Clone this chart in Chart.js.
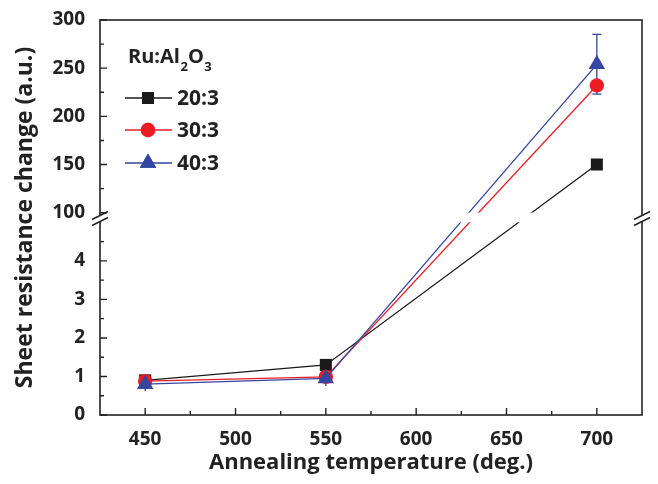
<!DOCTYPE html>
<html>
<head>
<meta charset="utf-8">
<script src="https://cdn.jsdelivr.net/npm/chart.js@4.4.1/dist/chart.umd.min.js"></script>
<style>
  html, body { margin: 0; padding: 0; background: #fff; }
  #wrap { width: 658px; height: 484px; }
</style>
</head>
<body>
<div id="wrap"><canvas id="chart" width="658" height="484"></canvas></div>
<script>
// data
var temps = [450, 550, 700];
var r20 = [0.9, 1.3, 150];
var r30 = [0.88, 0.99, 232];
var r40 = [0.8, 0.95, 254];
var err40 = [0.18, 0.2, 31];

var seriesNames = ["20:3", "30:3", "40:3"];
var seriesColors = ["#1a1a1a", "#ed1c24", "#3346a0"];
var seriesShapes = ["rect", "circle", "triangle"];

var xTicks = [450, 500, 550, 600, 650, 700];
var xMinor = [475, 525, 575, 625, 675];
var lowTicks = [0, 1, 2, 3, 4];
var lowMinor = [0.5, 1.5, 2.5, 3.5, 4.5];
var highTicks = [100, 150, 200, 250, 300];
var highMinor = [125, 175, 225, 275];

// broken axis: 0..5 kept as is, 100..300 squeezed on top of it
var LOW_END = 5, HIGH_START = 5.25;
function toDisp(v) {
	if (v <= LOW_END) return v;
	return HIGH_START + (v - 100) / 40;
}
function fromDisp(d) {
	if (d <= LOW_END) return d;
	return Math.round(100 + (d - HIGH_START) * 40);
}

function pts(vals) {
	return temps.map(function(t, i) { return {x: t, y: toDisp(vals[i])}; });
}

var FONT = "'Open Sans', sans-serif";
var INK = "#222";

var brokenAxis = {
	id: 'brokenAxis',
	beforeDatasetsDraw: function(chart) {
		// error bars for 40:3
		var ctx = chart.ctx, xs = chart.scales.x, ys = chart.scales.y;
		ctx.save();
		ctx.strokeStyle = seriesColors[2];
		ctx.lineWidth = 1.3;
		for (var i = 0; i < temps.length; i++) {
			var x = xs.getPixelForValue(temps[i]);
			var yt = ys.getPixelForValue(toDisp(r40[i] + err40[i]));
			var yb = ys.getPixelForValue(toDisp(r40[i] - err40[i]));
			ctx.beginPath();
			ctx.moveTo(x, yt); ctx.lineTo(x, yb);
			if (i == 2) {
				ctx.moveTo(x - 4.5, yt); ctx.lineTo(x + 4.5, yt);
				ctx.moveTo(x - 4.5, yb); ctx.lineTo(x + 4.5, yb);
			}
			ctx.stroke();
		}
		ctx.restore();
	},
	afterDatasetsDraw: function(chart) {
		var ctx = chart.ctx, a = chart.chartArea, xs = chart.scales.x, ys = chart.scales.y;
		var yLo = ys.getPixelForValue(LOW_END), yHi = ys.getPixelForValue(HIGH_START);
		ctx.save();
		// white band through the plot where the axis is broken
		ctx.fillStyle = "#fff";
		ctx.fillRect(a.left + 1, yHi, a.right - a.left - 2, yLo - yHi);

		// frame
		ctx.strokeStyle = INK;
		ctx.lineWidth = 1.6;
		ctx.strokeRect(a.left, a.top, a.right - a.left, a.bottom - a.top);

		// inward ticks
		ctx.lineWidth = 1.4;
		ctx.beginPath();
		xTicks.forEach(function(v) { var x = xs.getPixelForValue(v); ctx.moveTo(x, a.bottom); ctx.lineTo(x, a.bottom - 7); });
		xMinor.forEach(function(v) { var x = xs.getPixelForValue(v); ctx.moveTo(x, a.bottom); ctx.lineTo(x, a.bottom - 4); });
		lowTicks.concat(highTicks).forEach(function(v) { var y = ys.getPixelForValue(toDisp(v)); ctx.moveTo(a.left, y); ctx.lineTo(a.left + 7, y); });
		lowMinor.concat(highMinor).forEach(function(v) { var y = ys.getPixelForValue(toDisp(v)); ctx.moveTo(a.left, y); ctx.lineTo(a.left + 4, y); });
		ctx.stroke();

		// break marks on left and right axes
		var yc = (yLo + yHi) / 2 + 1;
		[a.left, a.right].forEach(function(x) {
			ctx.fillStyle = "#fff";
			ctx.fillRect(x - 2, yc - 3, 4, 6);
			ctx.beginPath();
			ctx.moveTo(x - 8, yc - 3 + 4); ctx.lineTo(x + 8, yc - 3 - 4);
			ctx.moveTo(x - 8, yc + 3 + 4); ctx.lineTo(x + 8, yc + 3 - 4);
			ctx.stroke();
		});
		ctx.restore();
	},
	afterDraw: function(chart) {
		// legend with subscripted title
		var ctx = chart.ctx;
		ctx.save();
		ctx.fillStyle = INK;
		ctx.textBaseline = "alphabetic";
		var x = 128, base = 63;
		var parts = [["Ru:Al", 0], ["2", 1], ["O", 0], ["3", 1]];
		parts.forEach(function(p) {
			ctx.font = p[1] ? "bold 13px " + FONT : "bold 20px " + FONT;
			ctx.fillText(p[0], x, p[1] ? base + 8 : base);
			x += ctx.measureText(p[0]).width + (p[1] ? 0 : 0.5);
		});
		var rows = [98, 130, 163];
		ctx.textBaseline = "middle";
		ctx.font = "bold 21px " + FONT;
		for (var i = 0; i < 3; i++) {
			var y = rows[i];
			ctx.strokeStyle = seriesColors[i];
			ctx.lineWidth = 1.4;
			ctx.beginPath(); ctx.moveTo(125, y); ctx.lineTo(172, y); ctx.stroke();
			ctx.fillStyle = seriesColors[i];
			Chart.helpers.drawPoint(ctx, {pointStyle: seriesShapes[i], radius: [8.5, 7.2, 9.5][i], rotation: 0, borderWidth: 0}, 148, y);
			ctx.fill();
			ctx.fillStyle = INK;
			ctx.fillText(seriesNames[i], 177, y + 1);
		}
		ctx.restore();
	}
};

var datasets = [r20, r30, r40].map(function(vals, i) {
	return {
		label: seriesNames[i],
		data: pts(vals),
		borderColor: seriesColors[i],
		backgroundColor: seriesColors[i],
		borderWidth: 1.3,
		pointStyle: seriesShapes[i],
		pointRadius: [8.5, 7.2, 9.5][i],
		pointBorderWidth: 0,
		order: 3 - i
	};
});

var chart = new Chart(document.getElementById("chart"), {
	type: 'line',
	data: { datasets: datasets },
	options: {
		responsive: false,
		animation: false,
		layout: { padding: { top: 20, right: 16, left: 0, bottom: 0 } },
		plugins: { legend: { display: false }, tooltip: { enabled: false } },
		scales: {
			x: {
				type: 'linear',
				min: 425,
				max: 725,
				afterBuildTicks: function(s) { s.ticks = xTicks.map(function(v) { return {value: v}; }); },
				afterFit: function(s) { s.height = 69; },
				grid: { display: false },
				border: { display: false },
				ticks: { color: INK, padding: 5, maxRotation: 0, font: { family: FONT, size: 19, weight: 'bold' } },
				title: { display: true, text: 'Annealing temperature (deg.)', color: INK, padding: { top: 2, bottom: 8 }, font: { family: FONT, size: 22, weight: 'bold' } }
			},
			y: {
				type: 'linear',
				min: 0,
				max: toDisp(300),
				afterBuildTicks: function(s) {
					s.ticks = lowTicks.concat(highTicks).map(function(v) { return {value: toDisp(v)}; });
				},
				afterFit: function(s) { s.width = 100; },
				grid: { display: false },
				border: { display: false },
				ticks: {
					color: INK, padding: 7,
					font: { family: FONT, size: 19, weight: 'bold' },
					callback: function(v) { return String(fromDisp(v)); }
				},
				title: { display: true, text: 'Sheet resistance change (a.u.)', color: INK, padding: { top: 12, bottom: 4 }, font: { family: FONT, size: 23, weight: 'bold' } }
			}
		}
	},
	plugins: [brokenAxis]
});
</script>
</body>
</html>
